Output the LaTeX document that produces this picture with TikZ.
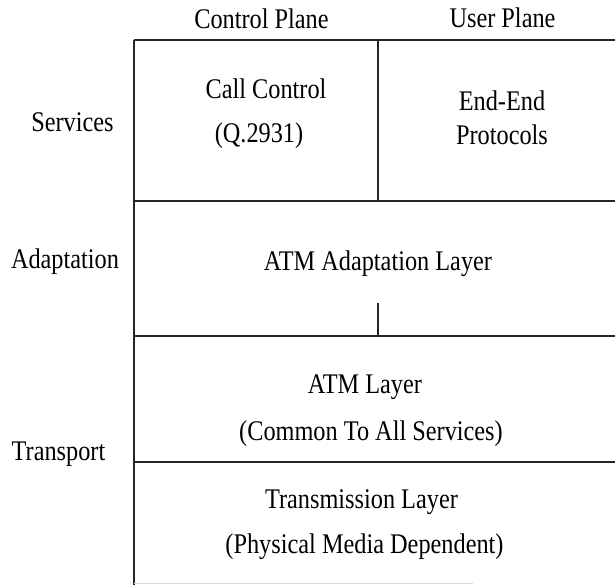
\documentclass[tikz,border=0pt]{standalone}
\usepackage{fontspec}
\setmainfont{Liberation Serif}
\newcommand{\vs}[1]{\scalebox{1}[1.17]{#1}}
\begin{document}
\begin{tikzpicture}[x=1pt,y=-1pt,
  lbl/.style={anchor=base,inner sep=0pt,font=\fontsize{24.3}{29}\selectfont},
  rule/.style={line width=1.6pt,draw=black!85}]
\useasboundingbox (0,0) rectangle (615,585);
% frame lines
\draw[rule] (134,40) -- (615,40);
\draw[rule] (134,40) -- (134,585);
\draw[rule] (134,201) -- (615,201);
\draw[rule] (134,336) -- (615,336);
\draw[rule] (134,462) -- (615,462);
\draw[rule] (378,40) -- (378,201);
\draw[rule] (378,303) -- (378,336);
\draw[line width=1pt,draw=black!15] (134,583) -- (473,583);
% column headers
\node[lbl] (cp) at (261.5,29) {\vs{Control Plane}};
\node[lbl] (up) at (502.5,28) {\vs{User Plane}};
% row labels
\node[lbl] (srv) at (72.5,131.5) {\vs{Services}};
\node[lbl] (adp) at (65,268) {\vs{Adaptation}};
\node[lbl] (trn) at (58.5,460) {\vs{Transport}};
% cells
\node[lbl] (cc) at (266,98.5) {\vs{Call Control}};
\node[lbl] (q) at (259,143) {\vs{(Q.2931)}};
\node[lbl] (ee) at (502,110.5) {\vs{End-End}};
\node[lbl] (pr) at (502,145) {\vs{Protocols}};
\node[lbl] (aal) at (378,270) {\vs{ATM Adaptation Layer}};
\node[lbl] (atm) at (365,393) {\vs{ATM Layer}};
\node[lbl] (cmn) at (371,440) {\vs{(Common To All Services)}};
\node[lbl] (tx) at (361.5,508) {\vs{Transmission Layer}};
\node[lbl] (pmd) at (364.5,553) {\vs{(Physical Media Dependent)}};
\end{tikzpicture}
\end{document}
